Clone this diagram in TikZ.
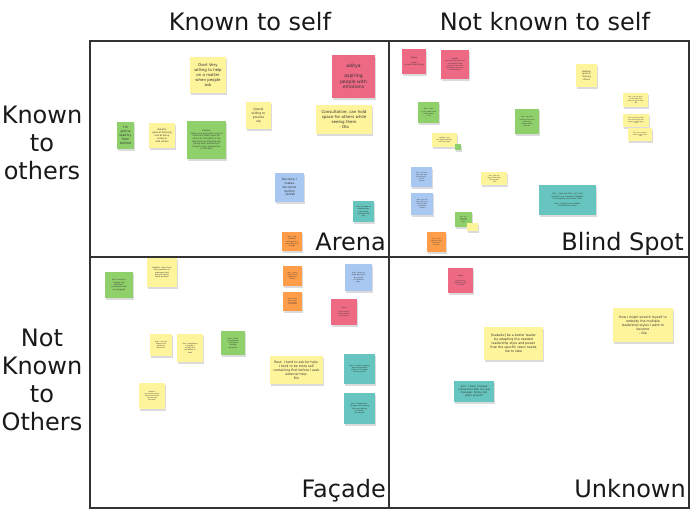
\documentclass[tikz,border=0pt]{standalone}
\usepackage{fontspec}
\setmainfont{DejaVu Sans}
\usetikzlibrary{shadows}
\definecolor{cYel}{HTML}{FEF49C}
\definecolor{cGrn}{HTML}{8FD06B}
\definecolor{cPnk}{HTML}{EE6A84}
\definecolor{cBlu}{HTML}{A8C8F2}
\definecolor{cTea}{HTML}{66C5BE}
\definecolor{cOrg}{HTML}{FF9D48}
\definecolor{cLine}{HTML}{333333}
\newcommand\stk[8]{%
 \pgfmathsetmacro\stkW{#5-#3}%
 \pgfmathsetmacro\stkH{#6-#4}%
 \pgfmathsetmacro\stkT{#5-#3-2}%
 \pgfmathsetmacro\stkL{#7*1.25}%
 \node[sticky, fill=#2, minimum width=\stkW pt, minimum height=\stkH pt, text width=\stkT pt, font=\fontsize{#7}{\stkL}\selectfont] (#1) at ({(#3+#5)/2},{(#4+#6)/2}) {#8};}
\begin{document}
\begin{tikzpicture}[x=1pt,y=-1pt,
  sticky/.style={draw=none, inner xsep=1pt, inner ysep=0.5pt, align=center, text=black!80,
     drop shadow={opacity=0.28, shadow xshift=0.8pt, shadow yshift=-2.4pt}},
  gridline/.style={draw=cLine, line width=1.2pt},
  head/.style={font=\fontsize{24}{28}\selectfont, text=black!90, inner sep=0pt, align=center}]
\useasboundingbox (0,0) rectangle (700,517);
\fill[white] (0,0) rectangle (700,517);
% grid
\coordinate (tl) at (90,41);
\coordinate (br) at (689,508);
\coordinate (mt) at (389,41);
\coordinate (mb) at (389,508);
\coordinate (ml) at (90,257);
\coordinate (mr) at (689,257);
\draw[gridline] (tl) rectangle (br);
\draw[gridline] (mt) -- (mb);
\draw[gridline] (ml) -- (mr);
% headers
\node[head] (h1) at (250,22) {Known to self};
\node[head] (h2) at (545,22) {Not known to self};
\node[head] (h3) at (42,143) {Known\\to\\others};
\node[head] (h4) at (42,380) {Not\\Known\\to\\Others};
\node[head, anchor=base east] (qa) at (386,250) {Arena};
\node[head, anchor=base east] (qb) at (684,250) {Blind Spot};
\node[head, anchor=base east] (qc) at (386,497) {Façade};
\node[head, anchor=base east] (qd) at (686,497) {Unknown};
% Arena
\stk{n1}{cYel}{190}{57}{226}{93}{3.9}{Dont Very\\willing to help\\on a matter\\when people\\ask}
\stk{n2}{cGrn}{117}{122}{134}{149}{3.2}{I'm gonna\\lead by\\from\\behind}
\stk{n3}{cYel}{149}{123}{175}{148}{2.3}{Isabelle:\\good at listening\\and at being\\inclusive\\with others}
\stk{n4}{cGrn}{187}{121}{226}{159}{2.1}{Isabelle:\\I make sure everyone's voice is\\heard and make space for\\others to contribute to the\\discussion by listening and\\asking open questions to\\bring in every perspective\\in the team}
\stk{n5}{cPnk}{332}{55}{375}{98}{4.6}{aditya\\[4pt]aspiring\\people with\\emotions}
\stk{n6}{cYel}{246}{102}{271}{129}{3}{(Good)\\willing to\\provide\\ola}
\stk{n7}{cYel}{316}{105}{372}{134}{4}{Consultative, can hold\\space for others while\\seeing them\\- Ola}
\stk{n8}{cBlu}{275}{173}{304}{202}{3}{Decisive /\\makes\\decisions\\quickly\\- Jordan}
\stk{n9}{cTea}{353}{201}{374}{222}{1.8}{Ami: focused on\\relationships\\and teams\\(working with\\ola)}
\stk{n10}{cOrg}{282}{232}{302}{251}{1.8}{Ami: I am\\confident\\and open to\\new ideas and\\change}
% Blind spot
\stk{n11}{cPnk}{402}{49}{426}{74}{2}{aditya\\[2pt]eager\\to learn new things}
\stk{n12}{cPnk}{441}{50}{469}{79}{1.7}{Isabelle:\\you are very open and\\you always bring\\energy to the team\\and make everyone\\feel welcome}
\stk{n13}{cGrn}{418}{102}{439}{123}{1.8}{Ami: trust\\in my peers and\\in the team\\- Ola}
\stk{n14}{cGrn}{515}{109}{539}{134}{1.7}{Ami: i tend to\\support the team\\and bring\\others along\\with me}
\stk{n15}{cYel}{432}{133}{457}{147}{1.6}{Isabelle: you\\ask good questions\\and listen well}
\stk{n16}{cGrn}{455}{144}{461}{150}{1}{}
\stk{n17}{cYel}{576}{64}{597}{87}{2.2}{Isabelle:\\good at\\hearing\\others}
\stk{n18}{cYel}{623}{93}{648}{107}{1.5}{Ami: you are open\\to new ideas and\\always ready to help\\- Ola}
\stk{n19}{cYel}{623}{114}{649}{127}{1.5}{Ami: you bring calm\\and structure to the\\team in challenging\\times}
\stk{n20}{cYel}{628}{128}{652}{141}{1.5}{Ami: you support\\others in the team\\- Ola}
\stk{n21}{cBlu}{411}{167}{432}{187}{1.6}{Ami: you are\\very calm and\\patient with\\others\\- Jordan}
\stk{n22}{cBlu}{411}{193}{433}{215}{1.6}{Ami: you are\\open with your\\feelings and\\vulnerable\\- Jordan}
\stk{n23}{cYel}{481}{172}{507}{185}{1.6}{Ami: you are\\good at working\\with people\\- Ola}
\stk{n24}{cTea}{539}{185}{596}{215}{2}{Ami - I learned that i can trust\\myself to be a leader of leaders\\in the group and create trust\\[2pt]Ami: i tend to be a leader\\behind the scenes}
\stk{n25}{cGrn}{455}{212}{472}{227}{1.4}{Ami: you\\encourage\\others to\\speak}
\stk{n26}{cYel}{467}{223}{478}{231}{1}{}
\stk{n27}{cOrg}{427}{232}{446}{252}{1.5}{Ami: you are\\organised and\\help others\\to focus}
% Facade
\stk{n28}{cGrn}{105}{272}{133}{298}{1.9}{Ami: desire to\\engage with\\optimism -\\sometimes hide\\my struggles}
\stk{n29}{cYel}{147}{258}{177}{287}{1.9}{Isabelle: move from\\task members to\\managers and\\being a better\\team member}
\stk{n30}{cYel}{150}{334}{172}{356}{1.7}{Ami: I am not\\always sure\\about my\\decisions}
\stk{n31}{cYel}{177}{334}{203}{362}{1.8}{Ami: sometimes\\I question\\myself and\\my ability to\\lead}
\stk{n32}{cGrn}{221}{331}{245}{355}{1.8}{Ami: I tend\\to hide how\\I feel when\\making\\decisions}
\stk{n33}{cYel}{139}{383}{165}{409}{1.6}{Isabelle:\\I sometimes worry\\about how others\\see me and\\hold back}
\stk{n34}{cOrg}{283}{266}{302}{286}{1.6}{Ami: I worry\\about being\\judged by\\others}
\stk{n35}{cOrg}{283}{292}{302}{311}{1.5}{Ami: I find it\\hard to say\\no to people\\in the team}
\stk{n36}{cBlu}{345}{264}{372}{291}{1.8}{Ami: I want to\\make decisions\\by myself\\in a quicker\\way}
\stk{n37}{cPnk}{331}{299}{357}{325}{1.7}{aditya\\[2pt]I get nervous\\when leading\\big groups}
\stk{n38}{cYel}{270}{356}{323}{384}{3.2}{Rest: I tend to ask for help.\\I tend to be more self\\containing first before I seek\\external help.\\Rio}
\stk{n39}{cTea}{344}{354}{375}{384}{1.8}{Ami - I tend to engage\\with and support\\others in the team\\before myself}
\stk{n40}{cTea}{344}{393}{375}{424}{1.8}{Ami - Sometimes I\\struggle with getting\\help and leaning\\on others\\for support}
% Unknown
\stk{n41}{cPnk}{448}{268}{473}{293}{1.7}{aditya\\[2pt]how can my\\emotions help\\me lead}
\stk{n42}{cYel}{484}{327}{543}{360}{3.2}{[Isabelle] be a better leader\\by adapting the needed\\leadership style and power\\that the specific team needs\\me to take}
\stk{n43}{cYel}{613}{308}{673}{342}{3.2}{How I might stretch myself to\\embody the multiple\\leadership styles I want to\\become\\- Ola}
\stk{n44}{cTea}{454}{381}{494}{402}{2.5}{Ami - I have I missed\\connections with my new\\manager, family and\\peers around?}
\end{tikzpicture}
\end{document}
